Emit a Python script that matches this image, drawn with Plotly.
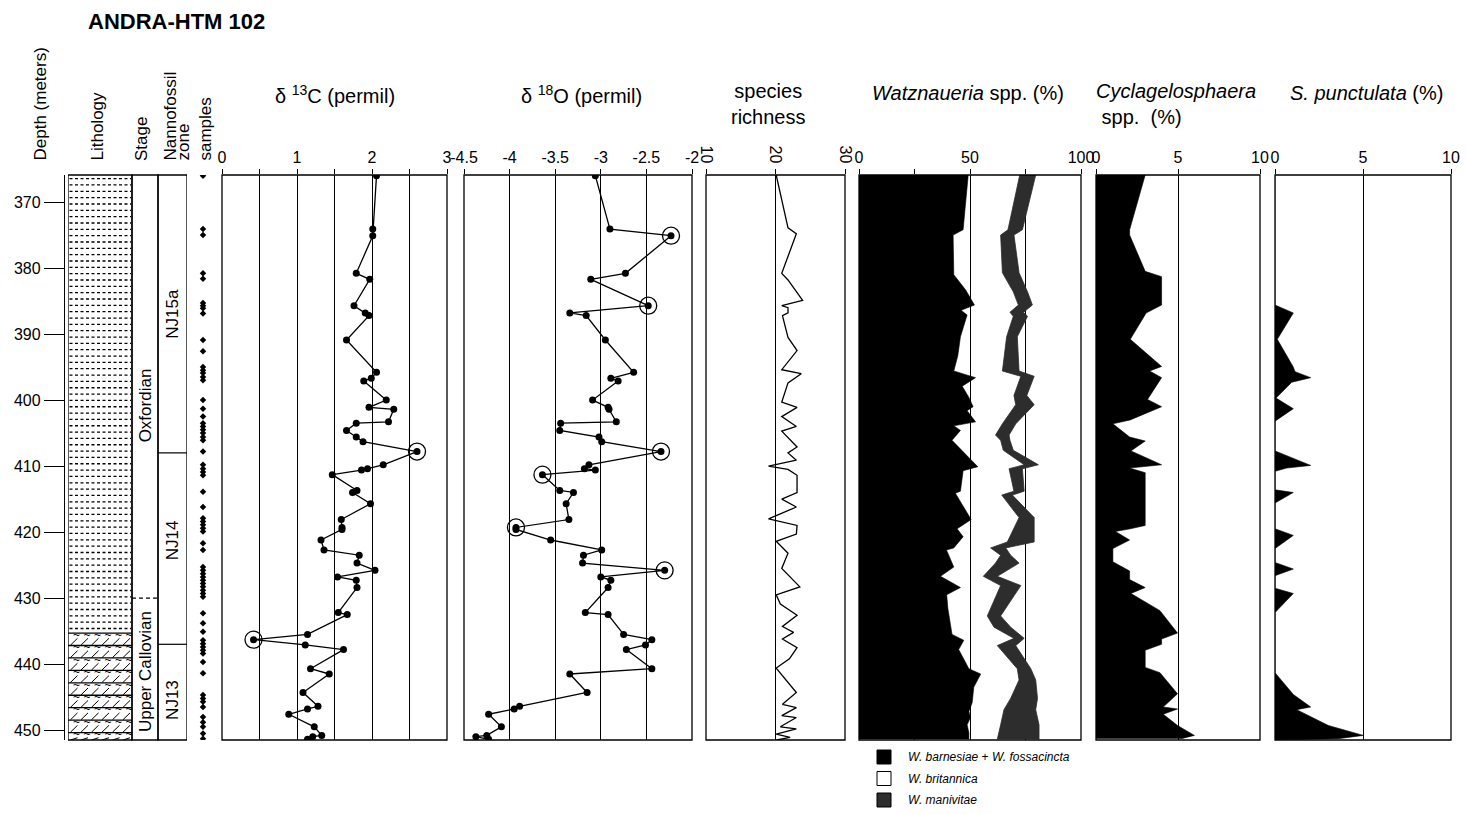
import numpy as np
import plotly.graph_objects as go

W, H = 1468, 814          # target screenshot size
OFF = 8                    # page body margin
FW, FH = W - OFF, H - OFF  # figure size
FONT = "Liberation Sans, Arial, Helvetica, sans-serif"
GRAY = "#2d2d2d"

# ---------------- data ----------------
depth_range = [451.5, 365.9]
depth_ticks = [370, 380, 390, 400, 410, 420, 430, 440, 450]

litho_names = ["silty claystone", "limestone"]
litho_top = [365.9, 435.3]
litho_base = [435.3, 451.5]

stage_names = ["Oxfordian", "Upper Callovian"]
stage_top = [365.9, 430.0]
stage_base = [430.0, 451.5]
stage_label_depth = [400.8, 441.2]

zone_names = ["NJ15a", "NJ14", "NJ13"]
zone_top = [365.9, 408.0, 437.0]
zone_base = [408.0, 437.0, 451.5]
zone_label_depth = [387.0, 421.3, 445.5]

sample_depths = [366.0, 374.1, 375.0, 380.8, 381.6, 385.3, 385.7, 386.1, 386.9, 390.9,
                 392.6, 395.0, 395.5, 395.9, 396.5, 397.0, 400.0, 401.3, 402.5, 403.5,
                 404.0, 404.5, 405.0, 405.6, 406.1, 407.8, 409.8, 410.4, 410.9, 411.4,
                 413.9, 416.2, 417.9, 418.4, 418.9, 419.4, 419.9, 421.7, 422.7, 425.3,
                 425.8, 426.3, 426.8, 427.3, 427.8, 428.3, 428.8, 429.3, 429.8, 432.3,
                 433.8, 435.1, 436.4, 436.9, 437.4, 437.9, 438.4, 439.7, 441.4, 444.7,
                 445.2, 445.7, 446.5, 448.0, 448.8, 449.5, 450.5, 451.3]

iso_depth = [366.0, 374.1, 375.1, 380.8, 381.7, 385.7, 386.8, 387.2, 390.9, 395.8,
             396.7, 397.1, 400.0, 401.1, 401.4, 403.3, 403.5, 404.6, 405.6, 406.3,
             407.8, 409.8, 410.4, 410.6, 411.3, 413.7, 414.0, 415.7, 418.1, 419.3,
             419.6, 421.2, 422.7, 423.5, 424.7, 425.8, 426.8, 427.3, 428.4, 432.2,
             432.5, 435.5, 436.3, 437.1, 437.8, 440.7, 441.5, 444.3, 446.4, 446.8,
             447.6, 449.5, 450.8, 451.0, 451.4]
d13c = [2.06, 2.01, 2.01, 1.79, 1.97, 1.76, 1.91, 1.96, 1.66, 2.06,
        1.99, 1.89, 2.19, 1.96, 2.29, 2.22, 1.79, 1.66, 1.79, 1.88,
        2.60, 2.15, 1.94, 1.86, 1.47, 1.80, 1.74, 1.98, 1.59, 1.60,
        1.60, 1.32, 1.36, 1.83, 1.80, 2.04, 1.54, 1.79, 1.80, 1.55,
        1.67, 1.14, 0.42, 1.11, 1.62, 1.18, 1.43, 1.08, 1.28, 1.14,
        0.89, 1.23, 1.33, 1.21, 1.14]
d18o = [-3.06, -2.90, -2.23, -2.73, -3.11, -2.48, -3.34, -3.16, -2.95, -2.64,
        -2.89, -2.81, -3.09, -2.92, -2.91, -2.83, -3.44, -3.45, -3.02, -2.99,
        -2.34, -3.13, -3.18, -3.06, -3.64, -3.45, -3.30, -3.38, -3.35, -3.93,
        -3.93, -3.55, -2.99, -3.19, -3.20, -2.30, -3.00, -2.89, -2.92, -3.17,
        -2.92, -2.75, -2.44, -2.51, -2.72, -2.44, -3.34, -3.15, -3.89, -3.95,
        -4.23, -4.09, -4.25, -4.37, -4.23]
d13c_circled = [20, 42]
d18o_circled = [2, 5, 20, 24, 29, 35]

sr_depth = [365.9, 373.9, 374.8, 380.8, 381.8, 384.9, 385.7, 386.0, 386.8, 387.2,
            390.5, 392.5, 395.4, 396.0, 397.4, 400.3, 401.1, 402.5, 404.0, 404.7,
            407.1, 408.0, 409.1, 410.0, 410.3, 410.5, 411.4, 414.0, 415.0, 416.2,
            418.0, 419.0, 420.3, 421.4, 423.2, 425.5, 428.3, 429.5, 430.9, 432.6,
            434.3, 435.2, 436.2, 437.5, 439.2, 440.6, 444.3, 446.1, 446.6, 447.8,
            448.1, 449.5, 449.8, 450.6, 451.1, 451.5]
sr_val = [20.1, 21.8, 23.0, 20.9, 21.8, 23.9, 20.9, 21.8, 21.8, 21.0,
          21.8, 23.1, 20.9, 23.7, 21.8, 20.9, 23.1, 20.9, 23.0, 20.9,
          23.1, 21.8, 23.0, 19.0, 20.7, 21.8, 23.1, 23.1, 20.9, 23.0,
          19.0, 23.1, 23.0, 20.1, 21.8, 20.9, 23.5, 20.1, 20.7, 23.1,
          21.0, 22.6, 21.0, 23.1, 22.0, 20.1, 23.0, 21.0, 23.0, 20.9,
          23.0, 20.7, 23.0, 20.1, 22.1, 20.2]

watz_depth = [365.9, 374.2, 375.0, 381.0, 383.3, 385.6, 386.4, 387.1, 390.4, 393.3,
              395.6, 396.6, 397.9, 399.6, 401.0, 401.6, 403.3, 403.9, 404.6, 406.1,
              410.1, 410.7, 413.8, 414.1, 418.1, 419.5, 420.7, 422.4, 422.7, 425.3,
              426.7, 428.4, 429.5, 431.5, 435.5, 436.4, 437.8, 440.7, 441.5, 443.5,
              445.8, 447.2, 448.1, 449.2, 450.4, 451.4]
watz_barnesiae = [49.2, 46.9, 42.4, 42.7, 48.0, 52.0, 46.0, 48.7, 45.7, 44.5,
                  42.7, 52.5, 46.5, 49.5, 51.4, 48.7, 52.5, 42.7, 45.7, 41.9,
                  53.5, 46.9, 45.7, 43.4, 50.5, 44.2, 46.9, 42.7, 39.4, 42.7,
                  36.7, 45.7, 39.5, 40.0, 41.9, 47.2, 44.9, 49.5, 54.8, 51.7,
                  51.0, 49.5, 50.2, 48.7, 49.5, 49.5]
watzg_depth = [365.9, 374.2, 375.0, 380.7, 383.6, 385.6, 386.7, 387.3, 390.4, 395.6,
               396.4, 399.3, 400.7, 403.6, 405.3, 406.1, 407.6, 409.8, 410.4, 413.8,
               414.4, 417.8, 421.5, 422.4, 423.5, 424.7, 426.7, 428.1, 432.7, 434.4,
               436.1, 437.2, 440.7, 442.4, 445.2, 446.9, 449.2, 451.4]
watz_britannica_cum = [72.4, 67.1, 63.8, 64.6, 69.5, 71.8, 68.0, 69.5, 66.5, 64.6,
                       72.9, 69.8, 70.6, 64.6, 61.5, 63.8, 65.0, 74.4, 67.6, 69.8,
                       64.3, 72.1, 66.8, 59.3, 63.8, 61.5, 56.0, 63.8, 57.8, 60.8,
                       69.8, 62.3, 71.3, 72.1, 68.3, 65.3, 63.8, 62.3]
watz_manivitae_cum = [79.6, 73.6, 69.8, 72.1, 75.9, 78.1, 74.1, 75.9, 71.3, 72.1,
                      78.9, 75.6, 78.9, 70.6, 67.6, 68.0, 69.5, 80.8, 73.6, 74.4,
                      69.1, 78.9, 78.9, 66.1, 68.3, 72.1, 62.3, 72.9, 63.8, 68.3,
                      74.4, 70.6, 77.4, 79.6, 80.4, 79.6, 81.1, 81.1]

cyc_depth = [365.9, 374.2, 375.0, 380.5, 381.3, 385.6, 386.8, 390.8, 394.9, 395.6,
             396.6, 399.9, 401.0, 403.0, 403.6, 405.6, 406.2, 407.7, 409.8, 410.3,
             411.0, 419.0, 419.5, 419.9, 421.2, 422.5, 424.5, 425.9, 427.2, 428.4,
             429.3, 431.9, 435.3, 436.2, 437.0, 437.9, 440.5, 441.3, 444.5, 446.5,
             446.8, 447.6, 449.3, 450.8, 451.3]
cyc_val = [3.0, 2.05, 2.05, 3.0, 4.0, 4.0, 3.06, 2.09, 4.0, 3.27,
           4.0, 3.14, 4.0, 2.09, 1.03, 2.05, 3.0, 2.13, 4.0, 2.05,
           3.0, 3.0, 2.09, 1.18, 2.05, 1.03, 1.03, 2.05, 2.05, 3.0,
           2.13, 3.9, 4.97, 4.0, 4.0, 3.0, 3.0, 3.9, 4.97, 4.1,
           4.97, 4.1, 4.97, 6.0, 5.2]

spun_depth = [365.9, 385.6, 386.8, 390.8, 395.0, 395.7, 396.6, 397.3, 399.7, 401.3,
              403.2, 407.7, 409.9, 410.3, 410.8, 413.6, 414.0, 415.6, 419.5, 420.5,
              422.5, 424.6, 425.6, 426.6, 428.5, 429.3, 432.2, 441.3, 444.6, 446.5,
              446.9, 449.3, 450.8, 451.3, 451.5]
spun_val = [0, 0, 1.04, 0.13, 1.04, 1.14, 2.03, 0.95, 0.06, 1.04,
            0, 0, 2.03, 0.66, 0, 0, 1.04, 0, 0, 1.04,
            0, 0, 1.04, 0, 0, 1.04, 0, 0, 1.04, 2.03,
            1.23, 3.03, 5.02, 3.6, 0]

legend_labels = ["<i>W. barnesiae</i> + <i>W. fossacincta</i>",
                 "<i>W. britannica</i>", "<i>W. manivitae</i>"]
legend_colors = ["#000000", "#ffffff", GRAY]

# ---------------- layout helpers (screen px -> paper) ----------------
Y_TOP, Y_BOT = 175, 740


def px(xp):
    return (xp - OFF) / FW


def py(yp):
    return 1 - (yp - OFF) / FH


ydom = [py(Y_BOT), py(Y_TOP)]

fig = go.Figure()
shapes = []
annotations = []

LITH = (0, 64)
STAGE = (64, 90)
ZONE = (90, 119)

# --- lithology patterns ---
cx, cy = [], []
for d in np.arange(litho_top[0] + 0.55, litho_base[0] - 0.2, 0.96):
    cx += [1.5, 63, None]
    cy += [d, d, None]
fig.add_trace(go.Scatter(x=cx, y=cy, xaxis="x", yaxis="y", mode="lines",
                         line=dict(color="black", width=1.3, dash="3px,2.5px"),
                         hoverinfo="skip", showlegend=False))
band = (litho_base[1] - litho_top[1]) / 8.6
lx, ly, sx, sy, wx, wy = [], [], [], [], [], []
t = litho_top[1]
while t < litho_base[1] - 0.05:
    lx += [0, 64, None]
    ly += [t, t, None]
    for x0 in np.arange(2.5, 60, 10.5):
        sx += [x0, x0 + 7, None]
        sy += [min(t + band * 0.97, litho_base[1]), t + band * 0.42, None]
        wx.append(x0 + 6)
        wy.append(t + band * 0.22)
    t += band
fig.add_trace(go.Scatter(x=lx, y=ly, xaxis="x", yaxis="y", mode="lines",
                         line=dict(color="black", width=1.3), hoverinfo="skip", showlegend=False))
fig.add_trace(go.Scatter(x=sx, y=sy, xaxis="x", yaxis="y", mode="lines",
                         line=dict(color="black", width=1.0), hoverinfo="skip", showlegend=False))
fig.add_trace(go.Scatter(x=wx, y=wy, xaxis="x", yaxis="y", mode="text", text=["~"] * len(wx),
                         textfont=dict(size=12, color="black", family=FONT),
                         hoverinfo="skip", showlegend=False))

for d in stage_top[1:]:
    fig.add_trace(go.Scatter(x=[STAGE[0], STAGE[1]], y=[d, d], xaxis="x", yaxis="y", mode="lines",
                             line=dict(color="black", width=1.2, dash="4px,3px"),
                             hoverinfo="skip", showlegend=False))
for d in zone_top[1:]:
    fig.add_trace(go.Scatter(x=[ZONE[0], ZONE[1]], y=[d, d], xaxis="x", yaxis="y", mode="lines",
                             line=dict(color="black", width=1.2), hoverinfo="skip", showlegend=False))
for name, yl in zip(stage_names, stage_label_depth):
    annotations.append(dict(xref="x", yref="y", x=(STAGE[0] + STAGE[1]) / 2, y=yl, text=name,
                            xanchor="center", yanchor="middle",
                            textangle=-90, showarrow=False, font=dict(size=17, family=FONT, color="black")))
for name, yl in zip(zone_names, zone_label_depth):
    annotations.append(dict(xref="x", yref="y", x=(ZONE[0] + ZONE[1]) / 2, y=yl, text=name,
                            xanchor="center", yanchor="middle",
                            textangle=-90, showarrow=False, font=dict(size=17, family=FONT, color="black")))
for c in (LITH, STAGE, ZONE):
    shapes.append(dict(type="rect", xref="x", yref="y domain", x0=c[0], x1=c[1], y0=0, y1=1,
                       line=dict(color="black", width=1.3)))

# samples
fig.add_trace(go.Scatter(x=[0.5] * len(sample_depths), y=sample_depths, xaxis="x2", yaxis="y",
                         mode="markers", marker=dict(symbol="diamond", size=5, color="black"),
                         showlegend=False))

# d13C
fig.add_trace(go.Scatter(x=d13c, y=iso_depth, xaxis="x3", yaxis="y", mode="lines+markers",
                         line=dict(color="black", width=1.3), marker=dict(size=7, color="black"),
                         showlegend=False))
fig.add_trace(go.Scatter(x=[d13c[i] for i in d13c_circled], y=[iso_depth[i] for i in d13c_circled],
                         xaxis="x3", yaxis="y", mode="markers",
                         marker=dict(symbol="circle-open", size=17, color="black", line=dict(width=1.3)),
                         showlegend=False))
# d18O
fig.add_trace(go.Scatter(x=d18o, y=iso_depth, xaxis="x4", yaxis="y", mode="lines+markers",
                         line=dict(color="black", width=1.3), marker=dict(size=7, color="black"),
                         showlegend=False))
fig.add_trace(go.Scatter(x=[d18o[i] for i in d18o_circled], y=[iso_depth[i] for i in d18o_circled],
                         xaxis="x4", yaxis="y", mode="markers",
                         marker=dict(symbol="circle-open", size=17, color="black", line=dict(width=1.3)),
                         showlegend=False))
# species richness
fig.add_trace(go.Scatter(x=sr_val, y=sr_depth, xaxis="x5", yaxis="y", mode="lines",
                         line=dict(color="black", width=1.3), showlegend=False))
# Watznaueria
fig.add_trace(go.Scatter(x=watz_barnesiae, y=watz_depth, xaxis="x6", yaxis="y", mode="lines",
                         line=dict(color="black", width=0.6), fill="tozerox", fillcolor="black",
                         showlegend=False))
fig.add_trace(go.Scatter(x=watz_britannica_cum, y=watzg_depth, xaxis="x6", yaxis="y", mode="lines",
                         line=dict(color=GRAY, width=0.8), showlegend=False))
fig.add_trace(go.Scatter(x=watz_manivitae_cum, y=watzg_depth, xaxis="x6", yaxis="y", mode="lines",
                         line=dict(color=GRAY, width=0.8), fill="tonextx", fillcolor=GRAY,
                         showlegend=False))
# Cyclagelosphaera
fig.add_trace(go.Scatter(x=cyc_val, y=cyc_depth, xaxis="x7", yaxis="y", mode="lines",
                         line=dict(color="black", width=0.6), fill="tozerox", fillcolor="black",
                         showlegend=False))
# S. punctulata
fig.add_trace(go.Scatter(x=spun_val, y=spun_depth, xaxis="x8", yaxis="y", mode="lines",
                         line=dict(color="black", width=0.6), fill="tozerox", fillcolor="black",
                         showlegend=False))

TICKFONT = dict(size=16, family=FONT, color="black")


def panel_axis(dom, rng, tickvals, ticktext, tickangle=0):
    return dict(domain=[px(dom[0]), px(dom[1])], range=rng, side="top", anchor="y",
                tickmode="array", tickvals=tickvals, ticktext=ticktext,
                ticks="outside", ticklen=5, tickwidth=1.3, tickcolor="black",
                showgrid=True, gridcolor="black", gridwidth=1.3, zeroline=False, showline=False,
                tickfont=TICKFONT, tickangle=tickangle, fixedrange=True, automargin=False)


panel_defs = {
    "xaxis3": ((222, 447), [0, 3], [0, 0.5, 1, 1.5, 2, 2.5, 3], ["0", "", "1", "", "2", "", "3"], 0),
    "xaxis4": ((464, 692), [-4.5, -2], [-4.5, -4, -3.5, -3, -2.5, -2],
               ["-4.5", "-4", "-3.5", "-3", "-2.5", "-2"], 0),
    "xaxis5": ((706, 845), [10, 30], [10, 20, 30], ["10", "20", "30"], 90),
    "xaxis6": ((859, 1081), [0, 100], [0, 25, 50, 75, 100], ["0", "", "50", "", "100"], 0),
    "xaxis7": ((1096, 1260), [0, 10], [0, 5, 10], ["0", "5", "10"], 0),
    "xaxis8": ((1275, 1451), [0, 10], [0, 5, 10], ["0", "5", "10"], 0),
}
layout_axes = {}
for k, (dom, rng, tv, tt, ang) in panel_defs.items():
    layout_axes[k] = panel_axis(dom, rng, tv, tt, ang)
    ref = "x" + k[5:]
    shapes.append(dict(type="rect", xref=ref + " domain", yref="y domain", x0=0, x1=1, y0=0, y1=1,
                       line=dict(color="black", width=1.3)))

for ref, left in (("x3", 0), ("x4", -4.5), ("x5", 10)):
    for d in (380, 400, 420, 440):
        shapes.append(dict(type="line", xref=ref, xsizemode="pixel", xanchor=left, x0=-6, x1=0,
                           yref="y", y0=d, y1=d, line=dict(color="black", width=1.2)))

layout_axes["xaxis"] = dict(domain=[px(68), px(187)], range=[0, 119], anchor="y", visible=False,
                            fixedrange=True, automargin=False)
layout_axes["xaxis2"] = dict(domain=[px(196), px(210)], range=[0, 1], anchor="y", visible=False,
                             fixedrange=True, automargin=False)
layout_axes["yaxis"] = dict(domain=ydom, range=depth_range, anchor="free", position=px(64),
                            tickmode="array", tickvals=depth_ticks, ticks="outside", ticklen=20,
                            tickwidth=1.3, tickcolor="black", showline=True, linecolor="black",
                            linewidth=1.3, showgrid=False, zeroline=False, tickfont=TICKFONT,
                            fixedrange=True, automargin=False)

annotations.append(dict(xref="paper", yref="paper", x=px(87), y=1.0, xanchor="left", yanchor="top",
                        text="<b>ANDRA-HTM 102</b>", showarrow=False, borderpad=0,
                        font=dict(size=22, family=FONT, color="black")))
for txt, xc in (("Depth (meters)", 40), ("Lithology", 97), ("Stage", 141),
                ("Nannofossil", 170), ("zone", 183), ("samples", 205)):
    annotations.append(dict(xref="paper", yref="paper", x=px(xc), y=py(163), xanchor="center",
                            yanchor="bottom", text=txt, textangle=-90, showarrow=False,
                            font=dict(size=17, family=FONT, color="black")))
TF = dict(size=20, family=FONT, color="black")


def title(x, y, text, **kw):
    d = dict(xref="paper", yref="paper", x=px(x), y=py(y), text=text, showarrow=False, font=TF,
             xanchor="center", yanchor="middle")
    d.update(kw)
    return d


annotations += [
    title(335, 95, "δ <sup>13</sup>C (permil)"),
    title(581, 95, "δ <sup>18</sup>O (permil)"),
    title(768, 104, "species<br>richness", align="center"),
    title(968, 93, "<i>Watznaueria</i> spp. (%)"),
    title(1094, 104, "<i>Cyclagelosphaera</i><br>&nbsp;spp.&nbsp;&nbsp;(%)", xanchor="left", align="left"),
    title(1366, 93, "<i>S. punctulata</i> (%)"),
]

for i, (lab, col) in enumerate(zip(legend_labels, legend_colors)):
    yc = 757 + i * 21.5
    shapes.append(dict(type="rect", xref="paper", yref="paper", x0=px(877), x1=px(891),
                       y0=py(yc - 7), y1=py(yc + 7), fillcolor=col, line=dict(color="black", width=1)))
    annotations.append(dict(xref="paper", yref="paper", x=px(906), y=py(yc), xanchor="left",
                            yanchor="middle", text=lab, showarrow=False,
                            font=dict(size=12, family=FONT, color="black")))

fig.update_layout(width=FW, height=FH, autosize=False, margin=dict(l=0, r=0, t=0, b=0, pad=0),
                  paper_bgcolor="white", plot_bgcolor="white", showlegend=False,
                  shapes=shapes, annotations=annotations, **layout_axes)

fig.write_html("out.html")
